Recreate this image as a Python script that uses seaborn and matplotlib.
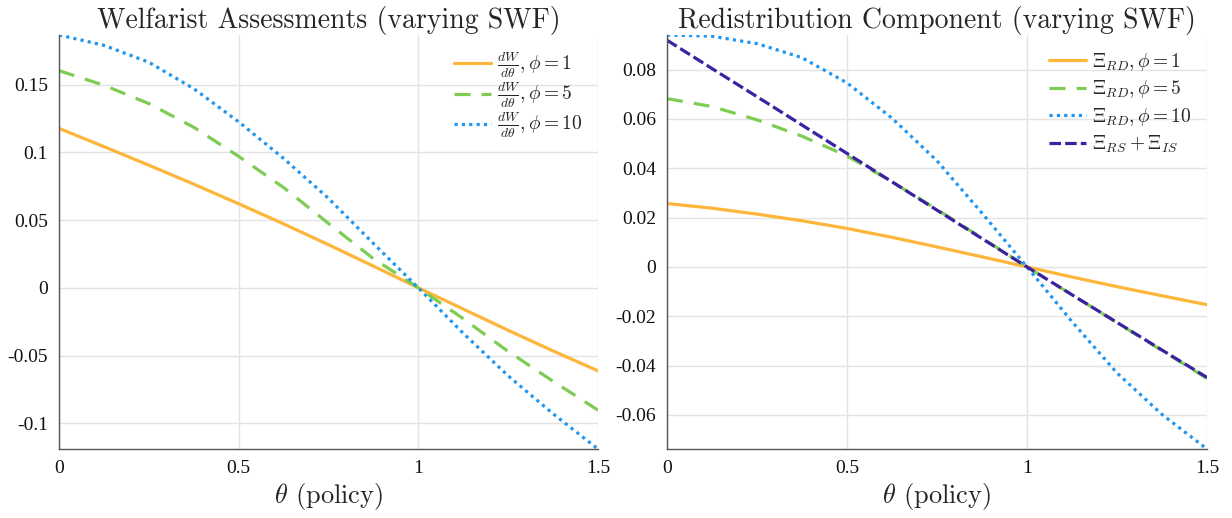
import numpy as np
import pandas as pd
import matplotlib
matplotlib.use("Agg")
import matplotlib.pyplot as plt
import seaborn as sns

# policy grid
theta = [0, 0.125, 0.25, 0.375, 0.5, 0.625, 0.75, 0.875, 1.0, 1.125, 1.25, 1.375, 1.5]

# left panel: dW/dtheta for phi = 1, 5, 10
dw_phi1 = [0.1177, 0.1042, 0.0905, 0.0765, 0.0620, 0.0472, 0.0318, 0.0160, 0.0, -0.0157, -0.0314, -0.0466, -0.0613]
dw_phi5 = [0.1603, 0.1495, 0.1360, 0.1185, 0.0970, 0.0740, 0.0475, 0.0215, 0.0, -0.0228, -0.0470, -0.0690, -0.0903]
dw_phi10 = [0.1866, 0.1790, 0.1665, 0.1470, 0.1225, 0.0955, 0.0660, 0.0327, 0.0, -0.0336, -0.0650, -0.0930, -0.1190]

# right panel: redistribution component
rd_phi1 = [0.0257, 0.0238, 0.0214, 0.0187, 0.0156, 0.0120, 0.0081, 0.0041, 0.0, -0.0041, -0.0080, -0.0117, -0.0153]
rd_phi5 = [0.0682, 0.0650, 0.0596, 0.0530, 0.0450, 0.0345, 0.0233, 0.0117, 0.0, -0.0113, -0.0226, -0.0339, -0.0452]
rd_phi10 = [0.0940, 0.0935, 0.0905, 0.0848, 0.0746, 0.0603, 0.0430, 0.0218, 0.0, -0.0222, -0.0430, -0.0598, -0.0738]
rs_is = [0.0919, 0.0804, 0.0690, 0.0575, 0.0460, 0.0345, 0.0230, 0.0115, 0.0, -0.0113, -0.0225, -0.0337, -0.0448]

left_labels = [r'$\frac{dW}{d\theta}, \phi =$1', r'$\frac{dW}{d\theta}, \phi =$5', r'$\frac{dW}{d\theta}, \phi =$10']
right_labels = [r'$\Xi_{RD}, \phi =$1', r'$\Xi_{RD}, \phi =$5', r'$\Xi_{RD}, \phi =$10', r'$\Xi_{RS} + \Xi_{IS}$']

c_orange = '#FDB53A'
c_green = '#7ECC52'
c_blue = '#2196F0'
c_purple = '#3B22A3'

sns.set_style("whitegrid")
plt.rcParams['mathtext.fontset'] = 'cm'
plt.rcParams['axes.unicode_minus'] = False
plt.rcParams['font.family'] = ['Liberation Serif', 'DejaVu Serif']

styles = [
    dict(color=c_orange, linestyle='-'),
    dict(color=c_green, linestyle=(0, (5, 3.5))),
    dict(color=c_blue, linestyle=(0, (1, 1.3)), dash_capstyle='butt'),
    dict(color=c_purple, linestyle=(0, (3.6, 1.3))),
]

fig = plt.figure(figsize=(12.32, 5.18), dpi=100)
ax1 = fig.add_axes([59 / 1232, 69 / 518, 539 / 1232, 414 / 518])
ax2 = fig.add_axes([667 / 1232, 69 / 518, 540 / 1232, 414 / 518])


def draw(ax, series, labels, yticks, title, leg_size, leg_space, hlen):
    for vals, lab, st in zip(series, labels, styles):
        sns.lineplot(x=theta, y=vals, ax=ax, label=lab, linewidth=2.3, **st)
    allv = np.concatenate([np.array(s) for s in series])
    ax.set_xlim(0, 1.5)
    ax.set_ylim(allv.min(), allv.max())
    ax.set_xticks([0, 0.5, 1, 1.5])
    ax.set_xticklabels(['0', '0.5', '1', '1.5'])
    ax.set_yticks(yticks)
    ax.set_yticklabels(['%g' % round(t, 3) for t in yticks])
    ax.grid(True, color='#e3e3e3', linewidth=1.0)
    ax.set_axisbelow(True)
    for s in ['top', 'right']:
        ax.spines[s].set_visible(False)
    for s in ['left', 'bottom']:
        ax.spines[s].set_color('#555555')
        ax.spines[s].set_linewidth(1.0)
    ax.tick_params(direction='in', length=4, width=0.8, color='#333333',
                   labelsize=14, labelcolor='#111111', pad=8)
    ax.set_title(title, fontsize=20, family='cmr10', pad=5)
    ax.set_xlabel(r'$\theta$ (policy)', fontsize=19, family='cmr10', labelpad=3)
    ax.set_ylabel('')
    ax.legend(loc='upper right', frameon=False, handlelength=hlen,
              handletextpad=0.3, labelspacing=leg_space, borderaxespad=0.4,
              prop={'family': 'cmr10', 'size': leg_size})


draw(ax1, [dw_phi1, dw_phi5, dw_phi10], left_labels,
     [-0.1, -0.05, 0, 0.05, 0.1, 0.15], 'Welfarist Assessments (varying SWF)',
     14, 0.02, 1.9)
draw(ax2, [rd_phi1, rd_phi5, rd_phi10, rs_is], right_labels,
     [-0.06, -0.04, -0.02, 0, 0.02, 0.04, 0.06, 0.08], 'Redistribution Component (varying SWF)',
     14, 0.3, 1.9)

fig.savefig('out.png', dpi=100)
